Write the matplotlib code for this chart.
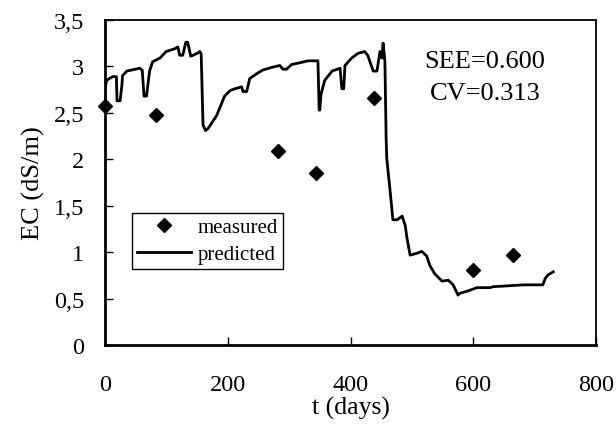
import matplotlib.pyplot as plt

# measured EC values (dS/m)
t_meas = [0, 83, 282, 344, 438, 600, 665]
ec_meas = [2.57, 2.48, 2.09, 1.85, 2.66, 0.81, 0.97]

# predicted EC
t_pred = [0, 3, 13, 19, 20, 25, 28, 29, 36, 57, 61, 64, 68, 73, 78, 90, 100,
          114, 119, 122, 127, 132, 135, 140, 144, 150, 155, 157, 160, 164, 168,
          182, 187, 195, 204, 212, 223, 225, 231, 236, 247, 257, 272, 285, 290,
          296, 304, 318, 331, 347, 349, 350, 352, 358, 370, 383, 386, 389, 391,
          402, 412, 423, 428, 437, 443, 448, 451, 453, 456, 458, 459, 464, 469,
          476, 484, 489, 492, 497, 508, 516, 524, 529, 537, 549, 559, 567, 575,
          578, 589, 606, 627, 632, 681, 713, 717, 722, 730]
ec_pred = [2.74, 2.85, 2.89, 2.89, 2.63, 2.63, 2.80, 2.90, 2.95, 2.98, 2.96, 2.68,
           2.68, 2.95, 3.05, 3.09, 3.16, 3.19, 3.21, 3.12, 3.12, 3.26, 3.26, 3.11,
           3.12, 3.14, 3.16, 3.13, 2.37, 2.31, 2.33, 2.47, 2.55, 2.68, 2.74, 2.76,
           2.78, 2.73, 2.73, 2.87, 2.92, 2.96, 2.99, 3.01, 2.97, 2.97, 3.02, 3.04,
           3.06, 3.06, 2.53, 2.53, 2.70, 2.85, 2.95, 2.98, 2.76, 2.76, 3.01, 3.09,
           3.14, 3.16, 3.12, 2.95, 2.95, 3.16, 3.09, 3.25, 3.05, 2.23, 2.01, 1.69,
           1.35, 1.35, 1.39, 1.29, 1.15, 0.97, 0.99, 1.01, 0.96, 0.86, 0.77, 0.69,
           0.70, 0.65, 0.54, 0.56, 0.58, 0.62, 0.62, 0.63, 0.65, 0.65, 0.72, 0.76,
           0.79]

x_ticks = [0, 200, 400, 600, 800]
y_ticks = [0, 0.5, 1, 1.5, 2, 2.5, 3, 3.5]
y_labels = ['0', '0,5', '1', '1,5', '2', '2,5', '3', '3,5']

plt.rcParams['font.family'] = ['Liberation Serif', 'DejaVu Serif']

fig = plt.figure(figsize=(6.16, 4.27), dpi=100)
ax = fig.add_axes([0.170, 0.189, 0.798, 0.762])

ax.plot(t_meas, ec_meas, 'D', color='black', markersize=7, label='measured',
        clip_on=False, zorder=3)
ax.plot(t_pred, ec_pred, '-', color='black', linewidth=2.0, label='predicted')

ax.set_xlim(0, 800)
ax.set_ylim(0, 3.5)
ax.set_xticks(x_ticks)
ax.set_yticks(y_ticks)
ax.set_yticklabels(y_labels)
ax.tick_params(direction='in', length=6, width=1, labelsize=17.5)
ax.tick_params(axis='x', pad=21)
ax.tick_params(axis='y', pad=15)
ax.spines['left'].set_linewidth(2.0)
ax.spines['bottom'].set_linewidth(2.0)
ax.spines['top'].set_linewidth(1.3)
ax.spines['right'].set_linewidth(1.3)

ax.set_xlabel('t (days)', fontsize=18.5, labelpad=0)
ax.set_ylabel('EC (dS/m)', fontsize=19, labelpad=6)

ax.text(619, 3.06, 'SEE=0.600', ha='center', va='center', fontsize=19)
ax.text(619, 2.71, 'CV=0.313', ha='center', va='center', fontsize=19)

leg = ax.legend(loc='upper left', bbox_to_anchor=(0.055, 0.408), fancybox=False,
                edgecolor='black', framealpha=1, fontsize=15, handlelength=2.6,
                borderpad=0.25, labelspacing=0.35, handletextpad=0.3,
                borderaxespad=0)
leg.get_frame().set_linewidth(1.0)

fig.savefig('out.png', dpi=100)
